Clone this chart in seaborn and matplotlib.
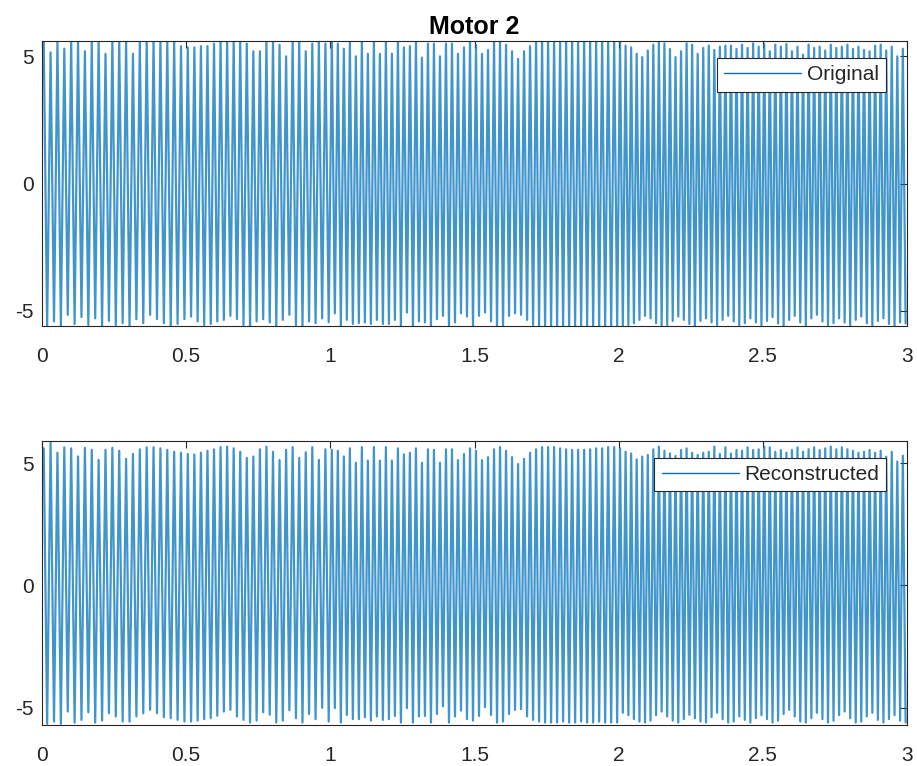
"""
Motor 2 - original vs reconstructed signal (two stacked panels, MATLAB-like look).
"""

import numpy as np
import seaborn as sns
from matplotlib import pyplot as plt

# 每 0.5 s 区间内读到的周期数
SEG_LEN = 0.5
SEG_COUNTS = [21, 22, 24, 24, 26, 26]

# 上图 Original：每个周期的波峰 / 波谷
orig_peaks = [
    5.6, 5.15, 5.6, 5.3, 5.6, 5.6, 5.2, 5.6, 5.6, 5.1, 5.6, 5.6, 5.6, 5.1, 5.6, 5.6, 5.6, 5.6, 5.6, 5.6, 5.4,
    5.35, 5.35, 5.4, 5.4, 5.5, 5.6, 5.6, 5.6, 5.6, 5.5, 5.2, 5.2, 5.6, 5.6, 5.45, 5.0, 5.6, 5.6, 5.2, 5.5, 5.6, 5.5,
    5.6, 5.5, 5.3, 5.55, 5.0, 5.6, 5.1, 5.6, 5.1, 5.55, 5.1, 5.55, 5.35, 5.4, 5.6, 4.95, 5.5, 5.5, 5.0, 5.5, 5.5, 5.1, 5.35, 5.6,
    5.45, 5.1, 5.25, 5.55, 5.55, 5.45, 5.2, 4.9, 5.2, 5.4, 5.6, 5.6, 5.6, 5.6, 5.55, 5.6, 5.6, 5.55, 5.6, 5.6, 5.55, 5.6, 5.6, 5.6,
    5.6, 5.42, 5.35, 5.1, 4.97, 5.23, 5.46, 5.55, 5.51, 5.29, 4.97, 5.2, 5.51, 5.46, 5.1, 5.33, 5.42, 5.25, 5.38, 5.42, 5.42, 5.29, 5.46, 5.33, 5.51, 5.38,
    5.49, 5.2, 5.46, 5.38, 5.49, 5.2, 5.38, 5.07, 5.46, 5.33, 5.38, 5.23, 5.46, 5.33, 5.38, 5.46, 5.29, 5.38, 5.25, 5.2, 5.42, 5.46, 5.23, 5.38, 5.0, 5.3,
]
orig_troughs = [
    -5.6, -5.42, -5.62, -5.16, -5.52, -5.25, -5.56, -5.3, -5.62, -5.4, -5.56, -5.49, -5.62, -5.33, -5.49, -5.16, -5.33, -5.49, -5.62, -5.52, -5.33,
    -5.23, -5.42, -5.56, -5.52, -5.42, -5.36, -5.2, -5.33, -5.56, -5.62, -5.42, -5.33, -5.46, -5.62, -5.36, -5.16, -5.56, -5.62, -5.42, -5.49, -5.3, -5.45,
    -5.1, -5.62, -5.36, -5.52, -5.49, -5.46, -5.52, -5.36, -5.52, -5.52, -5.36, -5.62, -5.07, -5.62, -5.42, -5.46, -5.62, -5.33, -5.2, -5.62, -5.46, -5.1, -5.23, -5.62,
    -5.2, -5.07, -5.42, -5.62, -5.62, -5.2, -5.1, -5.16, -5.36, -5.56, -5.62, -5.62, -5.6, -5.62, -5.62, -5.6, -5.62, -5.62, -5.6, -5.62, -5.62, -5.6, -5.62, -5.62,
    -5.62, -5.56, -5.49, -5.36, -5.2, -5.3, -5.49, -5.62, -5.56, -5.4, -5.23, -5.36, -5.52, -5.62, -5.4, -5.3, -5.46, -5.56, -5.36, -5.2, -5.42, -5.56, -5.49, -5.3, -5.46, -5.58,
    -5.4, -5.25, -5.5, -5.6, -5.36, -5.2, -5.46, -5.58, -5.3, -5.16, -5.42, -5.56, -5.49, -5.3, -5.46, -5.6, -5.36, -5.23, -5.49, -5.58, -5.4, -5.3, -5.52, -5.6, -5.46, -5.5,
]

# 下图 Reconstructed
recon_peaks = [
    5.6, 5.83, 5.42, 5.64, 5.6, 5.27, 5.62, 5.54, 5.13, 5.54, 5.62, 5.5, 5.17, 5.37, 5.56, 5.64, 5.64, 5.6, 5.54, 5.46, 5.42,
    5.37, 5.35, 5.42, 5.5, 5.56, 5.65, 5.67, 5.6, 5.46, 5.21, 5.27, 5.56, 5.67, 5.46, 5.12, 5.54, 5.65, 5.21, 5.44, 5.65, 5.13, 5.56,
    5.54, 5.5, 5.27, 5.6, 5.01, 5.65, 5.1, 5.65, 5.1, 5.65, 5.1, 5.6, 5.35, 5.42, 5.6, 5.01, 5.56, 5.54, 5.01, 5.56, 5.56, 5.12, 5.37, 5.6,
    5.5, 5.12, 5.24, 5.56, 5.65, 5.5, 5.24, 4.96, 5.17, 5.42, 5.56, 5.65, 5.65, 5.65, 5.6, 5.56, 5.54, 5.54, 5.54, 5.56, 5.6, 5.6, 5.65, 5.65,
    5.6, 5.46, 5.39, 5.15, 5.26, 5.33, 5.56, 5.67, 5.5, 5.39, 5.29, 5.53, 5.6, 5.42, 5.33, 5.42, 5.46, 5.67, 5.37, 5.64, 5.39, 5.53, 5.5, 5.64, 5.53, 5.56,
    5.67, 5.64, 5.46, 5.53, 5.42, 5.53, 5.64, 5.46, 5.56, 5.64, 5.53, 5.6, 5.67, 5.56, 5.64, 5.56, 5.5, 5.42, 5.46, 5.53, 5.42, 5.5, 5.26, 5.46, 5.06, 5.3,
]
recon_troughs = [
    -5.65, -5.56, -5.65, -5.15, -5.6, -5.49, -5.18, -5.6, -5.52, -5.22, -5.35, -5.56, -5.56, -5.35, -5.22, -5.08, -5.22, -5.38, -5.42, -5.49, -5.56,
    -5.56, -5.52, -5.46, -5.42, -5.32, -5.15, -5.08, -5.35, -5.49, -5.6, -5.52, -5.18, -5.28, -5.6, -5.52, -5.1, -5.42, -5.6, -5.25, -5.46, -5.0, -5.56,
    -5.01, -5.6, -5.29, -5.46, -5.46, -5.38, -5.52, -5.35, -5.49, -5.46, -5.33, -5.6, -5.01, -5.6, -5.35, -5.33, -5.6, -5.25, -4.94, -5.6, -5.35, -5.11, -5.46, -5.52,
    -5.33, -4.97, -5.29, -5.6, -5.56, -5.25, -5.08, -5.05, -5.35, -5.49, -5.56, -5.6, -5.6, -5.6, -5.56, -5.6, -5.6, -5.56, -5.6, -5.6, -5.56, -5.6, -5.6, -5.6,
    -5.2, -5.3, -5.46, -5.56, -5.6, -5.52, -5.3, -5.15, -5.35, -5.52, -5.6, -5.46, -5.28, -5.42, -5.56, -5.6, -5.38, -5.2, -5.46, -5.6, -5.56, -5.35, -5.49, -5.6, -5.42, -5.3,
    -5.46, -5.6, -5.52, -5.25, -5.08, -5.35, -5.56, -5.6, -5.42, -5.2, -5.46, -5.6, -5.52, -5.3, -5.15, -5.42, -5.6, -5.56, -5.35, -5.2, -5.49, -5.6, -5.46, -5.3, -5.52, -5.6,
]

X_TICKS = [0, 0.5, 1, 1.5, 2, 2.5, 3]
X_TICK_LABELS = ["0", "0.5", "1", "1.5", "2", "2.5", "3"]
Y_TICKS = [-5, 0, 5]
Y_TICK_LABELS = ["-5", "0", "5"]

LINE_COLOR = "#0072BD"
TEXT_COLOR = "#262626"


def extreme_times(seg_counts):
    # 每个区间内波峰/波谷等间隔排列
    times = []
    for k, n in enumerate(seg_counts):
        step = SEG_LEN / (2 * n)
        times += [k * SEG_LEN + (j + 0.5) * step for j in range(2 * n)]
    return np.array(times)


def interleave(peaks, troughs):
    vals = np.empty(len(peaks) + len(troughs))
    vals[0::2] = peaks
    vals[1::2] = troughs
    return vals


def draw_panel(ax, t, vals, label, ylim):
    sns.lineplot(x=t, y=vals, ax=ax, color=LINE_COLOR, linewidth=1.6, alpha=0.75,
                 label=label, sort=False, estimator=None)
    ax.set_xlim(0, 3)
    ax.set_ylim(*ylim)
    ax.set_xticks(X_TICKS)
    ax.set_xticklabels(X_TICK_LABELS)
    ax.set_yticks(Y_TICKS)
    ax.set_yticklabels(Y_TICK_LABELS)
    ax.set_xlabel("")
    ax.set_ylabel("")
    ax.tick_params(direction="in", top=True, right=True, length=5, width=0.8,
                   colors=TEXT_COLOR, labelsize=15)
    ax.tick_params(axis="x", pad=15)
    ax.tick_params(axis="y", pad=6)
    for sp in ax.spines.values():
        sp.set_color(TEXT_COLOR)
        sp.set_linewidth(0.8)
    leg = ax.legend(loc="upper right", bbox_to_anchor=(0.9757, 0.9404),
                    fontsize=15, handlelength=3.7, handletextpad=0.25,
                    borderpad=0.35, borderaxespad=0.0,
                    fancybox=False, framealpha=1, edgecolor=TEXT_COLOR)
    leg.get_frame().set_linewidth(0.8)
    for line in leg.get_lines():
        line.set_alpha(1.0)
        line.set_linewidth(1.0)
    for txt in leg.get_texts():
        txt.set_color(TEXT_COLOR)


def main():
    sns.set_theme(style="white")
    plt.rcParams["font.family"] = ["Liberation Sans", "DejaVu Sans"]

    t = extreme_times(SEG_COUNTS)
    orig = interleave(orig_peaks, orig_troughs)
    recon = interleave(recon_peaks, recon_troughs)
    assert len(t) == len(orig) == len(recon)

    fig = plt.figure(figsize=(9.17, 7.66), dpi=100)
    ax1 = fig.add_axes([0.0458, 0.5744, 0.9433, 0.372])
    ax2 = fig.add_axes([0.0458, 0.0535, 0.9433, 0.3708])

    draw_panel(ax1, t, orig, "Original", (-5.6, 5.6))
    draw_panel(ax2, t, recon, "Reconstructed", (-5.7, 5.9))
    ax1.set_title("Motor 2", fontsize=18, fontweight="bold", color="#000000", pad=5)

    fig.savefig("out.png", dpi=100)


if __name__ == "__main__":
    main()
